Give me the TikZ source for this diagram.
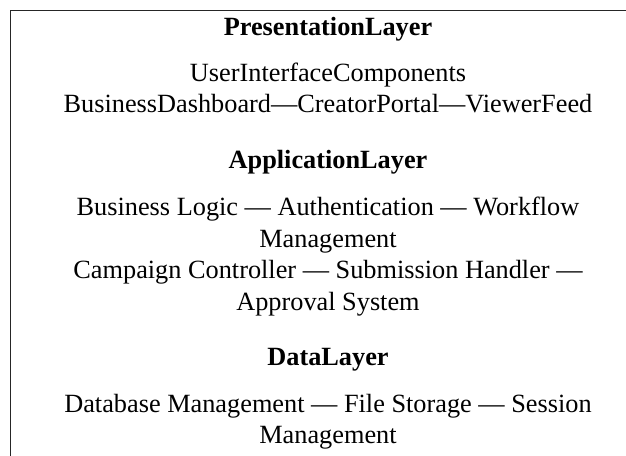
\documentclass[tikz,border=0pt]{standalone}
\usepackage{fontspec}
\setmainfont{Liberation Serif}
\begin{document}
\begin{tikzpicture}[x=1pt,y=-1pt,
  every node/.style={inner sep=0pt,outer sep=0pt,font=\fontsize{26.3}{31.5}\selectfont},
  line/.style={anchor=base},
  ttl/.style={anchor=base,font=\fontsize{26.3}{31.5}\selectfont\bfseries},
  frame/.style={draw=black!85,line width=1.3pt}]
\useasboundingbox (0,0) rectangle (626,455);
\begin{scope}
\clip (0,0) rectangle (626,455);
\draw[frame] (10.5,470) -- (10.5,10.5) -- (660,10.5);
\end{scope}
\node[ttl]  (p0) at (328,35)  {PresentationLayer};
\node[line] (p1) at (328,81)  {UserInterfaceComponents};
\node[line] (p2) at (328,112) {BusinessDashboard---CreatorPortal---ViewerFeed};
\node[ttl]  (a0) at (328,168) {ApplicationLayer};
\node[line] (a1) at (328,215) {Business Logic --- Authentication --- Workflow};
\node[line] (a2) at (328,247) {Management};
\node[line] (a3) at (328,278) {Campaign Controller --- Submission Handler ---};
\node[line] (a4) at (328,310) {Approval System};
\node[ttl]  (d0) at (328,365) {DataLayer};
\node[line] (d1) at (328,412) {Database Management --- File Storage --- Session};
\node[line] (d2) at (328,443) {Management};
\end{tikzpicture}
\end{document}
